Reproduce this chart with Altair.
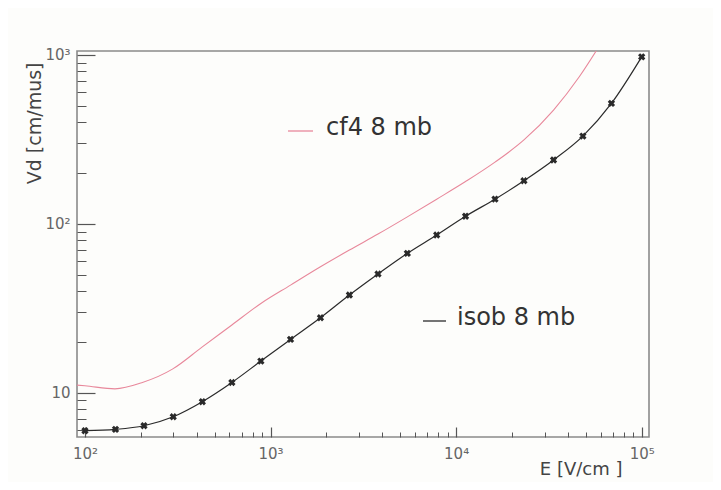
import altair as alt
import pandas as pd

# ---- data ----
E_cf4 = [90.6, 100, 145, 204, 296, 429, 619, 887, 1282, 1858, 2660, 3794, 5460,
         7860, 11240, 16200, 23200, 33500, 46100, 57300]
Vd_cf4 = [11.1, 11.0, 10.55, 11.5, 13.8, 18.7, 25.2, 33.8, 43.4, 55.7, 70, 87, 110,
          140, 178, 232, 314, 472, 743, 1071]

E_isob = [100, 146, 208, 299, 429, 619, 887, 1282, 1858, 2660, 3794, 5460, 7860,
          11240, 16200, 23200, 33500, 48200, 68700, 100000]
Vd_isob = [5.96, 6.07, 6.38, 7.21, 8.85, 11.5, 15.4, 20.7, 27.8, 37.9, 50.5, 66.9,
           85.9, 111, 140, 180, 239, 331, 517, 975]

series_names = ["cf4 8 mb", "isob 8 mb"]

x_major = [100, 1000, 10000, 100000]
x_major_labels = ["10²", "10³", "10⁴", "10⁵"]
x_minor = [m * 10 ** k for k in (2, 3, 4) for m in range(2, 10)]

y_major = [10, 100, 1000]
y_major_labels = ["10", "10²", "10³"]
y_minor = [6, 7, 8, 9] + [m * 10 ** k for k in (1, 2) for m in range(2, 10)]

x_domain = [90.6, 109500]
y_domain = [5.47, 1056]

# ---- tables ----
cf4 = pd.DataFrame({"E": E_cf4, "Vd": Vd_cf4})
isob = pd.DataFrame({"E": E_isob, "Vd": Vd_isob})
leg_cf4 = pd.DataFrame({"name": [series_names[0]]})
leg_isob = pd.DataFrame({"name": [series_names[1]]})

H = 386
W = 572
FONT = "DejaVu Sans"
PINK = "#e8889b"
BLACK = "#2a2a2a"
TICK = "#555555"


def label_expr(vals, labels):
    expr = "''"
    for v, l in reversed(list(zip(vals, labels))):
        expr = f"datum.value == {v} ? '{l}' : ({expr})"
    return expr


x_scale = alt.Scale(type="log", domain=x_domain, nice=False)
y_scale = alt.Scale(type="log", domain=y_domain, nice=False)

# label axes (bottom / left), no ticks
x_axis = alt.Axis(
    orient="bottom",
    values=x_major, labelExpr=label_expr(x_major, x_major_labels),
    ticks=False, domain=False, grid=False,
    labelFont=FONT, labelFontSize=15, labelColor="#666666", labelPadding=9,
    labelFlush=False, labelOverlap=False,
    title="E [V/cm ]", titleFont=FONT, titleFontSize=18, titleFontWeight="normal",
    titleColor="#444444", titleAnchor="start", titleAlign="right",
    titleX=545, titleY=37, titleBaseline="alphabetic",
)
y_axis = alt.Axis(
    orient="left",
    values=y_major, labelExpr=label_expr(y_major, y_major_labels),
    ticks=False, domain=False, grid=False,
    labelFont=FONT, labelFontSize=15, labelColor="#666666", labelPadding=7,
    labelFlush=False, labelOverlap=False,
    title="Vd [cm/mus]", titleFont=FONT, titleFontSize=19, titleFontWeight="normal",
    titleColor="#444444", titleAngle=270, titleAlign="right",
    titleX=-43, titleY=11, titleBaseline="middle", titleAnchor="start",
)


# tick-only axes turned inward: a top axis moved down to the bottom edge,
# a right axis moved over to the left edge
def x_tick_axis(vals, size, width):
    return alt.Axis(orient="top", offset=-H, values=vals, labels=False, ticks=True,
                    tickSize=size, tickColor=TICK, tickWidth=width,
                    domain=False, grid=False, title=None)


def y_tick_axis(vals, size, width):
    return alt.Axis(orient="right", offset=-W, values=vals, labels=False, ticks=True,
                    tickSize=size, tickColor=TICK, tickWidth=width,
                    domain=False, grid=False, title=None)


cf4_line = alt.Chart(cf4).mark_line(
    interpolate="monotone", strokeWidth=1.1, clip=True, color=PINK
).encode(
    x=alt.X("E:Q", scale=x_scale, axis=x_axis),
    y=alt.Y("Vd:Q", scale=y_scale, axis=y_axis),
)

isob_line = alt.Chart(isob).mark_line(
    interpolate="monotone", strokeWidth=1.2, clip=True, color=BLACK
).encode(
    x=alt.X("E:Q", scale=x_scale, axis=x_tick_axis(x_major, 10, 1.2)),
    y=alt.Y("Vd:Q", scale=y_scale, axis=y_tick_axis(y_major, 18, 1.2)),
)

isob_pts = alt.Chart(isob).mark_point(
    shape="cross", angle=45, filled=True, size=55, color=BLACK, opacity=1,
).encode(
    x=alt.X("E:Q", scale=x_scale, axis=x_tick_axis(x_minor, 5, 1.0)),
    y=alt.Y("Vd:Q", scale=y_scale, axis=y_tick_axis(y_minor, 9, 1.0)),
)

# ---- legend entries (keys + labels), placed in plot pixels ----
cf4_key = alt.Chart(leg_cf4).mark_rule(color=PINK, strokeWidth=1.3).encode(
    x=alt.value(211), x2=alt.value(236), y=alt.value(80))
cf4_txt = alt.Chart(leg_cf4).mark_text(
    align="left", baseline="middle", font=FONT, fontSize=24, color="#333333"
).encode(text="name:N", x=alt.value(249), y=alt.value(77))

isob_key = alt.Chart(leg_isob).mark_rule(color=BLACK, strokeWidth=1.3).encode(
    x=alt.value(346), x2=alt.value(369), y=alt.value(270))
isob_txt = alt.Chart(leg_isob).mark_text(
    align="left", baseline="middle", font=FONT, fontSize=24, color="#333333"
).encode(text="name:N", x=alt.value(380), y=alt.value(267))

chart = alt.layer(
    cf4_line, isob_line, isob_pts, cf4_key, cf4_txt, isob_key, isob_txt,
).resolve_axis(x="independent", y="independent").properties(
    width=W, height=H,
    autosize=alt.AutoSizeParams(type="none"),
    padding={"left": 69, "top": 43, "right": 64, "bottom": 45},
    background="#fdfdfb",
).configure_view(stroke="#8a8a8a", strokeWidth=1.6)

chart.save("out.html", embed_options={"renderer": "svg", "actions": False})
